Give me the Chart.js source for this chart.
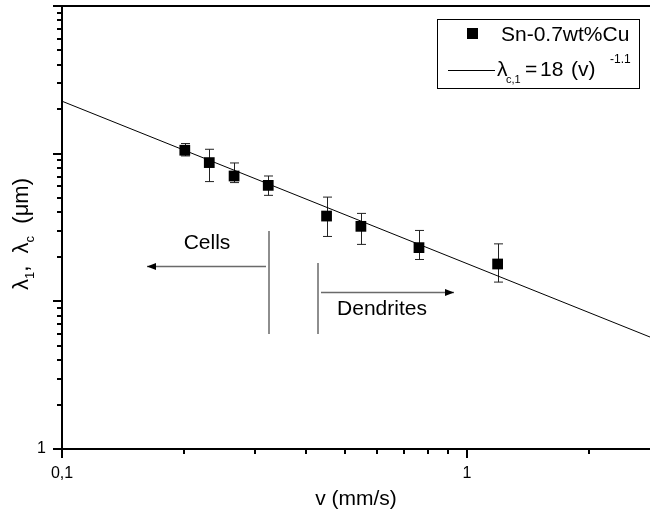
<!DOCTYPE html>
<html>
<head>
<meta charset="utf-8">
<script src="https://cdn.jsdelivr.net/npm/chart.js@4.4.0/dist/chart.umd.min.js"></script>
<style>
    html, body { margin: 0; padding: 0; background: #fff; }
    #grafico { display: block; }
</style>
</head>
<body>
<canvas id="grafico" width="650" height="517"></canvas>
<script>
// medidas: velocidade (mm/s) e espaçamento (um), com barras de erro
const velocidades = [0.201, 0.231, 0.266, 0.323, 0.450, 0.547, 0.761, 1.19];
const espacamentos = [105.5, 87.0, 70.6, 61.0, 37.8, 32.2, 23.1, 17.9];
const erroSuperior = [117.1, 107.1, 86.5, 70.6, 50.8, 39.4, 30.2, 24.5];
const erroInferior = [96.5, 64.7, 63.7, 52.2, 27.5, 24.3, 19.2, 13.5];

// ajuste: lambda = 18 (v)^-1.1
const coefAjuste = 18;
const expoenteAjuste = -1.1;
const limitesV = [0.1, 2.83];

// eixos
const marcasRotuloX = [0.1, 1];
const rotulosX = ['0,1', '1'];
const marcasRotuloY = [1];
const rotulosY = ['1'];
const ticksMaioresX = [0.1, 1];
const ticksMenoresX = [0.2, 0.3, 0.4, 0.5, 0.6, 0.7, 0.8, 0.9, 2];
const ticksMaioresY = [1, 10, 100, 1000];
const ticksMenoresY = [2, 3, 4, 5, 6, 7, 8, 9, 20, 30, 40, 50, 60, 70, 80, 90, 200, 300, 400, 500, 600, 700, 800, 900];

const fonte = '"Liberation Sans", Arial, sans-serif';

// desenha pedaços de texto com subscrito a partir de (x, y)
function textoComposto(ctx, partes, x, y) {
    let pos = x;
    partes.forEach(([texto, tipo]) => {
        ctx.font = tipo ? `13px ${fonte}` : `22px ${fonte}`;
        ctx.fillText(texto, pos, y + (tipo ? 6 : 0));
        pos += ctx.measureText(texto).width;
    });
}

function larguraComposta(ctx, partes) {
    let total = 0;
    partes.forEach(([texto, tipo]) => {
        ctx.font = tipo ? `13px ${fonte}` : `22px ${fonte}`;
        total += ctx.measureText(texto).width;
    });
    return total;
}

function seta(ctx, x1, x2, y) {
    ctx.strokeStyle = '#6a6a6a';
    ctx.lineWidth = 1.5;
    ctx.beginPath();
    ctx.moveTo(x1, y);
    ctx.lineTo(x2, y);
    ctx.stroke();
    const dir = x2 > x1 ? 1 : -1;
    ctx.fillStyle = '#000';
    ctx.beginPath();
    ctx.moveTo(x2, y);
    ctx.lineTo(x2 - dir * 9, y - 3.5);
    ctx.lineTo(x2 - dir * 9, y + 3.5);
    ctx.closePath();
    ctx.fill();
}

const semMargem = (s) => {
    s.paddingLeft = 0;
    s.paddingRight = 0;
    s.paddingTop = 0;
    s.paddingBottom = 0;
};

const anotacoes = {
    id: 'anotacoes',
    beforeDatasetsDraw(chart) {
        const {ctx, scales: {x, y}} = chart;
        ctx.save();
        ctx.strokeStyle = '#222';
        ctx.lineWidth = 1;
        velocidades.forEach((v, i) => {
            const px = Math.round(x.getPixelForValue(v)) + 0.5;
            const topo = y.getPixelForValue(erroSuperior[i]);
            const base = y.getPixelForValue(erroInferior[i]);
            ctx.beginPath();
            ctx.moveTo(px, topo);
            ctx.lineTo(px, base);
            ctx.moveTo(px - 4.5, topo);
            ctx.lineTo(px + 4.5, topo);
            ctx.moveTo(px - 4.5, base);
            ctx.lineTo(px + 4.5, base);
            ctx.stroke();
        });
        ctx.restore();
    },
    afterDraw(chart) {
        const {ctx, chartArea: area, scales: {x, y}} = chart;
        ctx.save();

        // borda superior
        ctx.strokeStyle = '#000';
        ctx.lineWidth = 2;
        ctx.beginPath();
        ctx.moveTo(area.left - 1, area.top);
        ctx.lineTo(area.right, area.top);
        ctx.stroke();

        // marcas dos eixos, para fora
        ctx.beginPath();
        ticksMaioresY.forEach(v => { const p = Math.round(y.getPixelForValue(v)); ctx.moveTo(area.left - 9, p); ctx.lineTo(area.left, p); });
        ticksMenoresY.forEach(v => { const p = Math.round(y.getPixelForValue(v)); ctx.moveTo(area.left - 5, p); ctx.lineTo(area.left, p); });
        ticksMaioresX.forEach(v => { const p = Math.round(x.getPixelForValue(v)); ctx.moveTo(p, area.bottom); ctx.lineTo(p, area.bottom + 9); });
        ticksMenoresX.forEach(v => { const p = Math.round(x.getPixelForValue(v)); ctx.moveTo(p, area.bottom); ctx.lineTo(p, area.bottom + 5); });
        ctx.stroke();

        // título do eixo y
        ctx.fillStyle = '#000';
        ctx.textBaseline = 'alphabetic';
        ctx.textAlign = 'left';
        const tituloY = [['λ'], ['1', 'sub'], [',  '], ['λ'], ['c', 'sub'], ['  (μm)']];
        ctx.save();
        ctx.translate(28, 234);
        ctx.rotate(-Math.PI / 2);
        textoComposto(ctx, tituloY, -larguraComposta(ctx, tituloY) / 2, 0);
        ctx.restore();

        // legenda
        ctx.strokeStyle = '#000';
        ctx.lineWidth = 1;
        ctx.strokeRect(437.5, 19.5, 202, 69);
        ctx.fillRect(467, 28, 11, 11);
        ctx.font = `21px ${fonte}`;
        ctx.fillText('Sn-0.7wt%Cu', 501, 41);
        ctx.beginPath();
        ctx.moveTo(448, 70.5);
        ctx.lineTo(495, 70.5);
        ctx.stroke();
        ctx.fillText('λ', 497, 76);
        ctx.fillText('=', 525, 76);
        ctx.fillText('18', 540, 76);
        ctx.fillText('(v)', 571, 76);
        ctx.font = `11px ${fonte}`;
        ctx.fillText('c,1', 506, 83);
        ctx.font = `12px ${fonte}`;
        ctx.fillText('-1.1', 610, 63);

        // regiões de células e dendritas
        ctx.strokeStyle = '#6a6a6a';
        ctx.lineWidth = 1.5;
        ctx.beginPath();
        ctx.moveTo(269, 231);
        ctx.lineTo(269, 334);
        ctx.moveTo(318, 263);
        ctx.lineTo(318, 334);
        ctx.stroke();
        seta(ctx, 266, 147, 266.5);
        seta(ctx, 321, 454, 292.5);
        ctx.fillStyle = '#000';
        ctx.font = `21px ${fonte}`;
        ctx.textAlign = 'center';
        ctx.textBaseline = 'middle';
        ctx.fillText('Cells', 207, 243);
        ctx.fillText('Dendrites', 382, 309);

        ctx.restore();
    }
};

const pontos = velocidades.map((v, i) => ({x: v, y: espacamentos[i]}));
const retaAjuste = limitesV.map(v => ({x: v, y: coefAjuste * Math.pow(v, expoenteAjuste)}));

const config = {
    type: 'scatter',
    data: {
        datasets: [{
            label: 'Sn-0.7wt%Cu',
            data: pontos,
            pointStyle: 'rect',
            pointRadius: 7.6,
            pointHoverRadius: 7.6,
            backgroundColor: '#000',
            borderColor: '#000',
            borderWidth: 0
        }, {
            label: 'ajuste',
            data: retaAjuste,
            showLine: true,
            pointRadius: 0,
            borderColor: '#000',
            borderWidth: 1
        }]
    },
    options: {
        responsive: false,
        animation: false,
        devicePixelRatio: 1,
        layout: { autoPadding: false, padding: { top: 6, right: 0, left: 0, bottom: 0 } },
        plugins: {
            legend: { display: false },
            tooltip: { enabled: false }
        },
        scales: {
            x: {
                type: 'logarithmic',
                min: limitesV[0],
                max: limitesV[1],
                afterBuildTicks: (s) => { s.ticks = marcasRotuloX.map(v => ({value: v})); },
                afterFit: (s) => { s.height = 68; semMargem(s); },
                grid: { display: false, drawTicks: false },
                border: { display: true, color: '#000', width: 2 },
                ticks: {
                    autoSkip: false,
                    maxRotation: 0,
                    padding: 15,
                    color: '#000',
                    font: { family: fonte, size: 16 },
                    callback: (v) => rotulosX[marcasRotuloX.indexOf(v)]
                },
                title: {
                    display: true,
                    text: 'v (mm/s)',
                    color: '#000',
                    font: { family: fonte, size: 21 },
                    padding: { top: 0, bottom: 5 }
                }
            },
            y: {
                type: 'logarithmic',
                min: 1,
                max: 1000,
                afterBuildTicks: (s) => { s.ticks = marcasRotuloY.map(v => ({value: v})); },
                afterFit: (s) => { s.width = 62; semMargem(s); },
                grid: { display: false, drawTicks: false },
                border: { display: true, color: '#000', width: 2 },
                ticks: {
                    padding: 16,
                    color: '#000',
                    font: { family: fonte, size: 16 },
                    callback: (v) => rotulosY[marcasRotuloY.indexOf(v)]
                }
            }
        }
    },
    plugins: [anotacoes]
};

const grafico = new Chart(document.getElementById('grafico'), config);
</script>
</body>
</html>
